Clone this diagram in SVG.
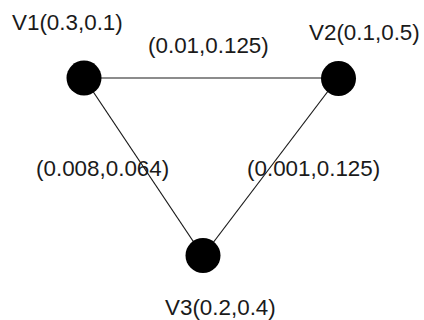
<svg xmlns="http://www.w3.org/2000/svg" width="424" height="320" viewBox="0 0 424 320">
<style>
.node{fill:#000}
.edge{stroke:#1a1a1a;stroke-width:1.2;fill:none}
text{font-family:"Liberation Sans",Arial,sans-serif;font-size:22.4px;fill:#1a1a1a}
</style>
<rect width="424" height="320" fill="#fff"/>
<g id="connectors">
<line class="edge" x1="84" y1="78" x2="338" y2="78"/>
<line class="edge" x1="84" y1="78" x2="203" y2="256"/>
<line class="edge" x1="338" y1="78" x2="203" y2="256"/>
<text x="148" y="53">(0.01,0.125)</text>
<text x="36" y="176">(0.008,0.064)</text>
<text x="247" y="176">(0.001,0.125)</text>
</g>
<g id="V1">
<circle class="node" cx="84" cy="78" r="17.5"/>
<text x="12" y="30">V1(0.3,0.1)</text>
</g>
<g id="V2">
<circle class="node" cx="338.5" cy="78.5" r="17.5"/>
<text x="309" y="40">V2(0.1,0.5)</text>
</g>
<g id="V3">
<circle class="node" cx="203" cy="255.5" r="17.5"/>
<text x="165" y="315">V3(0.2,0.4)</text>
</g>
</svg>
